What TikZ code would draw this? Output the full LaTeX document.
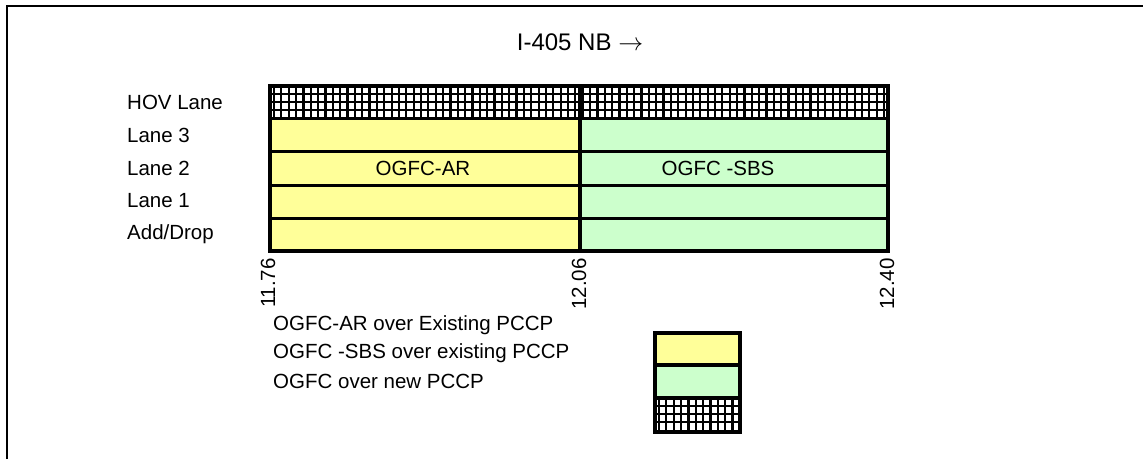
\documentclass[tikz,border=0pt]{standalone}
\usepackage{fontspec}
\setmainfont{Liberation Sans}
\definecolor{arfill}{HTML}{FFFF99}
\definecolor{sbsfill}{HTML}{CCFFCC}
\begin{document}
\begin{tikzpicture}[x=1pt,y=-1pt,
    lbl/.style={font=\fontsize{20.5}{24}\selectfont, inner sep=0pt},
    border/.style={line width=3.2pt},
    rowline/.style={line width=3pt},
    hatch/.style={line width=2.2pt}
  ]
  \useasboundingbox (0,0) rectangle (1143,459);

  % frame
  \draw [line width=2.5pt]
  (7,459) coordinate (F1)
  (7,6) coordinate (F2)
  (1143,6) coordinate (F3)
  (F1) -- (F2) -- (F3);

  \node [lbl, font=\fontsize{24}{28}\selectfont] (title) at (580,42) {I-405 NB $\rightarrow$};

  % lanes
  \fill [arfill] (270,118) rectangle (580,251);
  \fill [sbsfill] (580,118) rectangle (888,251);
  \begin{scope}
    \clip (270,86) rectangle (888,118);
    \foreach \gx in {274,281.35,...,888}
      \draw [hatch] (\gx,86) -- (\gx,118);
    \foreach \gy in {94,102,110}
      \draw [hatch] (270,\gy) -- (888,\gy);
  \end{scope}
  \foreach \ry in {118,151,185,218}
    \draw [rowline] (270,\ry) -- (888,\ry);
  \draw [border] (270,86) rectangle (888,251);
  \draw [border] (580,86) -- (580,251);

  \node [lbl, anchor=west] (hov) at (127,102) {HOV Lane};
  \node [lbl, anchor=west] (lane3) at (127,135) {Lane 3};
  \node [lbl, anchor=west] (lane2) at (127,168) {Lane 2};
  \node [lbl, anchor=west] (lane1) at (127,201) {Lane 1};
  \node [lbl, anchor=west] (adddrop) at (127,234) {Add/Drop};

  \node [lbl] (ar) at (423,168) {OGFC-AR};
  \node [lbl] (sbs) at (718,168) {OGFC -SBS};

  % postmiles
  \node [lbl, rotate=90, anchor=east] (pm1) at (268,258) {11.76};
  \node [lbl, rotate=90, anchor=east] (pm2) at (579,258) {12.06};
  \node [lbl, rotate=90, anchor=east] (pm3) at (887,258) {12.40};

  % legend
  \node [lbl, anchor=west] (legar) at (273,325) {OGFC-AR over Existing PCCP};
  \node [lbl, anchor=west] (legsbs) at (273,353) {OGFC -SBS over existing PCCP};
  \node [lbl, anchor=west] (legnew) at (273,381) {OGFC over new PCCP};

  \fill [arfill] (655,333) rectangle (740,365);
  \fill [sbsfill] (655,365) rectangle (740,398);
  \begin{scope}
    \clip (655,398) rectangle (740,432);
    \foreach \gx in {659,666.35,...,740}
      \draw [hatch] (\gx,398) -- (\gx,432);
    \foreach \gy in {406,414,422}
      \draw [hatch] (655,\gy) -- (740,\gy);
  \end{scope}
  \draw [border] (655,333) rectangle (740,432);
  \draw [border] (655,365) -- (740,365);
  \draw [border] (655,398) -- (740,398);
\end{tikzpicture}
\end{document}
